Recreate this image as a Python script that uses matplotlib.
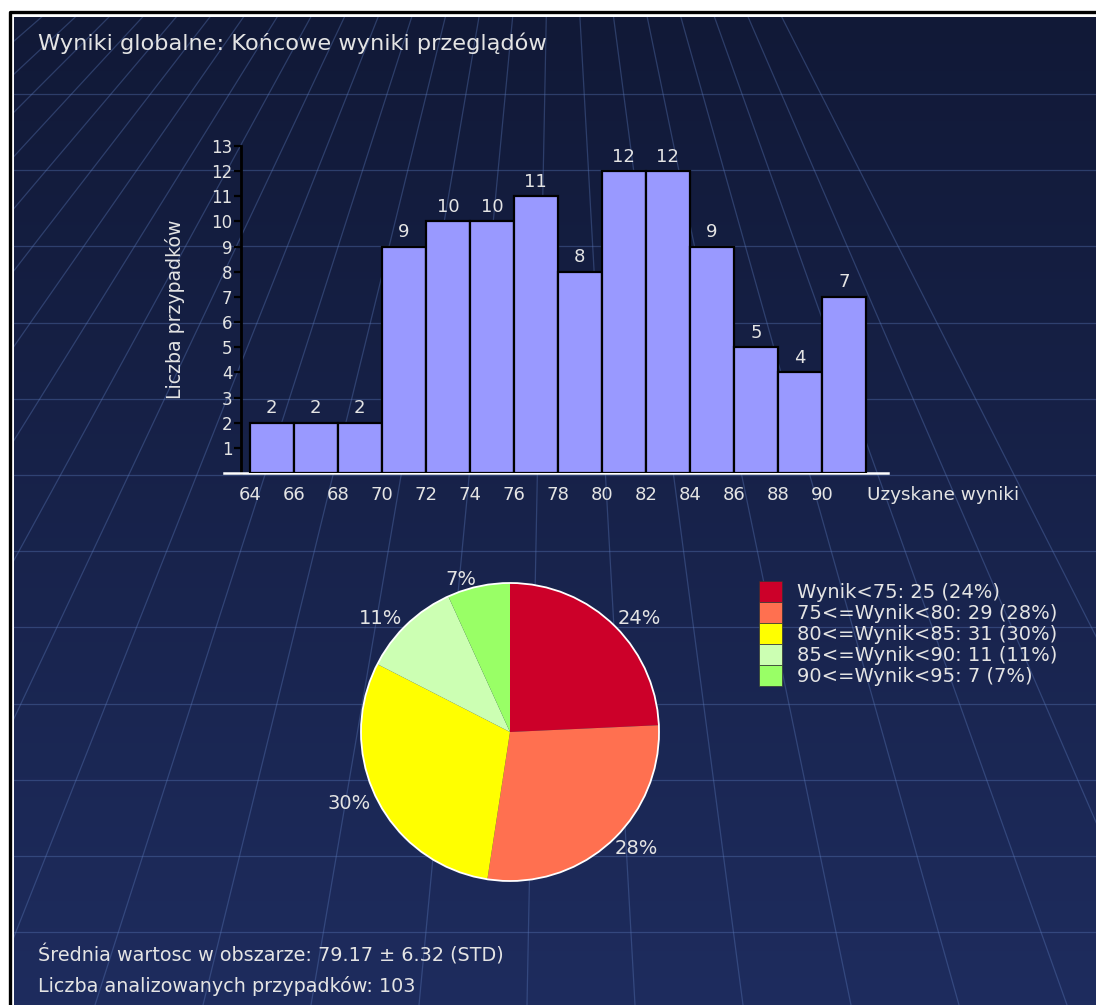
import matplotlib
matplotlib.use('Agg')
import matplotlib.pyplot as plt
from matplotlib.patches import Rectangle, Circle, Patch
from matplotlib.colors import LinearSegmentedColormap
import numpy as np

# histogram data
bin_edges = [64, 66, 68, 70, 72, 74, 76, 78, 80, 82, 84, 86, 88, 90, 92]
counts = [2, 2, 2, 9, 10, 10, 11, 8, 12, 12, 9, 5, 4, 7]
x_ticks = [64, 66, 68, 70, 72, 74, 76, 78, 80, 82, 84, 86, 88, 90]

# pie data
pie_labels = ['Wynik<75', '75<=Wynik<80', '80<=Wynik<85', '85<=Wynik<90', '90<=Wynik<95']
pie_values = [25, 29, 31, 11, 7]
pie_colors = ['#cc0029', '#ff7050', '#ffff00', '#ccffb3', '#99ff66']

title = 'Wyniki globalne: Końcowe wyniki przeglądów'
footer1 = 'Średnia wartosc w obszarze: 79.17 ± 6.32 (STD)'
footer2 = 'Liczba analizowanych przypadków: 103'

W, H = 1096, 1005
txt = '#e4e4e4'
plt.rcParams['font.family'] = ['DejaVu Sans']


def fx(x):
    return x / W


def fy(y):
    return 1 - y / H


fig = plt.figure(figsize=(W / 100, H / 100), dpi=100, facecolor='white')

# background panel with gradient and perspective grid
bg = fig.add_axes([0, 0, 1, 1])
bg.set_xlim(0, W)
bg.set_ylim(H, 0)
bg.axis('off')
cmap = LinearSegmentedColormap.from_list('bg', ['#111937', '#1e2c5e'])
grad = np.linspace(0, 1, 256).reshape(-1, 1)
bg.imshow(grad, cmap=cmap, extent=[14, W, H, 17], aspect='auto', zorder=0)
panel = Rectangle((14, 17), W - 14, H - 17, transform=bg.transData, fill=False, lw=0)
bg.add_patch(panel)

grid_col = '#5a78b8'
for k in range(12):
    y = 94 + 76.2 * k
    ln, = bg.plot([14, W], [y, y], color=grid_col, lw=0.9, alpha=0.38, zorder=1)
    ln.set_clip_path(panel)
vx, vy = 555, -430
for k in range(-19, 6):
    xb = 743 + 108 * k
    ln, = bg.plot([vx, xb], [vy, H], color=grid_col, lw=0.9, alpha=0.38, zorder=1)
    ln.set_clip_path(panel)

# outer frame
bg.plot([9.5, 9.5, W + 5], [H + 5, 11.5, 11.5], color='black', lw=2.4, zorder=2)

# title and footer
fig.text(fx(38), fy(43), title, color=txt, fontsize=16.2, va='center', ha='left')
fig.text(fx(38), fy(955), footer1, color=txt, fontsize=13.8, va='center', ha='left')
fig.text(fx(38), fy(986), footer2, color=txt, fontsize=13.8, va='center', ha='left')

# histogram
x0_px, x1_px = 224, 888
ax = fig.add_axes([fx(x0_px), fy(473), (x1_px - x0_px) / W, (473 - 146) / H])
ax.patch.set_alpha(0)
lefts = bin_edges[:-1]
widths = np.diff(bin_edges)
bars = ax.bar(lefts, counts, width=widths, align='edge', color='#9999ff',
              edgecolor='black', linewidth=1.6, zorder=3)
for b, c in zip(bars, counts):
    ax.annotate(str(c), (b.get_x() + b.get_width() / 2, c), xytext=(0, 4),
                textcoords='offset points', ha='center', va='bottom',
                color=txt, fontsize=13)
ax.set_xlim(62.83, 93)
ax.set_ylim(0, 13)
ax.spines['top'].set_visible(False)
ax.spines['right'].set_visible(False)
ax.spines['left'].set_position(('data', 63.6))
ax.spines['left'].set_color('black')
ax.spines['left'].set_linewidth(2)
ax.spines['bottom'].set_color('white')
ax.spines['bottom'].set_linewidth(1.8)
ax.set_yticks(range(1, 14))
ax.set_xticks(x_ticks)
ax.tick_params(axis='y', colors='black', labelcolor=txt, length=5, width=1.6,
               pad=1, labelsize=12)
ax.tick_params(axis='x', length=0, pad=9, labelcolor=txt, labelsize=13)
ax.set_ylabel('Liczba przypadków', color=txt, fontsize=13.6, labelpad=19)
fig.text(fx(867), fy(495), 'Uzyskane wyniki', color=txt, fontsize=13.2,
         va='center', ha='left')

# pie
cx, cy, r = 510, 732, 149
m = 1.03
pax = fig.add_axes([fx(cx - r * m), fy(cy + r * m), 2 * r * m / W, 2 * r * m / H])
wedges, _, autotexts = pax.pie(pie_values, colors=pie_colors, startangle=90,
                               counterclock=False, autopct='%.0f%%',
                               pctdistance=1.05, radius=1,
                               wedgeprops=dict(linewidth=0),
                               textprops=dict(color=txt, fontsize=14))
for t in autotexts:
    px, py = t.get_position()
    t.set_ha('left' if px > 0 else 'right')
    t.set_clip_on(False)
pax.add_patch(Circle((0, 0), 1, fill=False, edgecolor='white', lw=1.3))
pax.set_xlim(-m, m)
pax.set_ylim(-m, m)
pax.set_aspect('equal')
pax.axis('off')

# legend
total = sum(pie_values)
handles = [Patch(facecolor=c, edgecolor='#333333', linewidth=0.5) for c in pie_colors]
labels = ['%s: %d (%.0f%%)' % (l, v, 100.0 * v / total) for l, v in zip(pie_labels, pie_values)]
fig.legend(handles, labels, loc='upper left', bbox_to_anchor=(fx(759), fy(581)),
           frameon=False, fontsize=14, labelcolor=txt, handlelength=1.19,
           handleheight=1.27, labelspacing=0.0, handletextpad=0.75,
           borderpad=0, borderaxespad=0)

fig.savefig('out.png', dpi=100, facecolor='white')
